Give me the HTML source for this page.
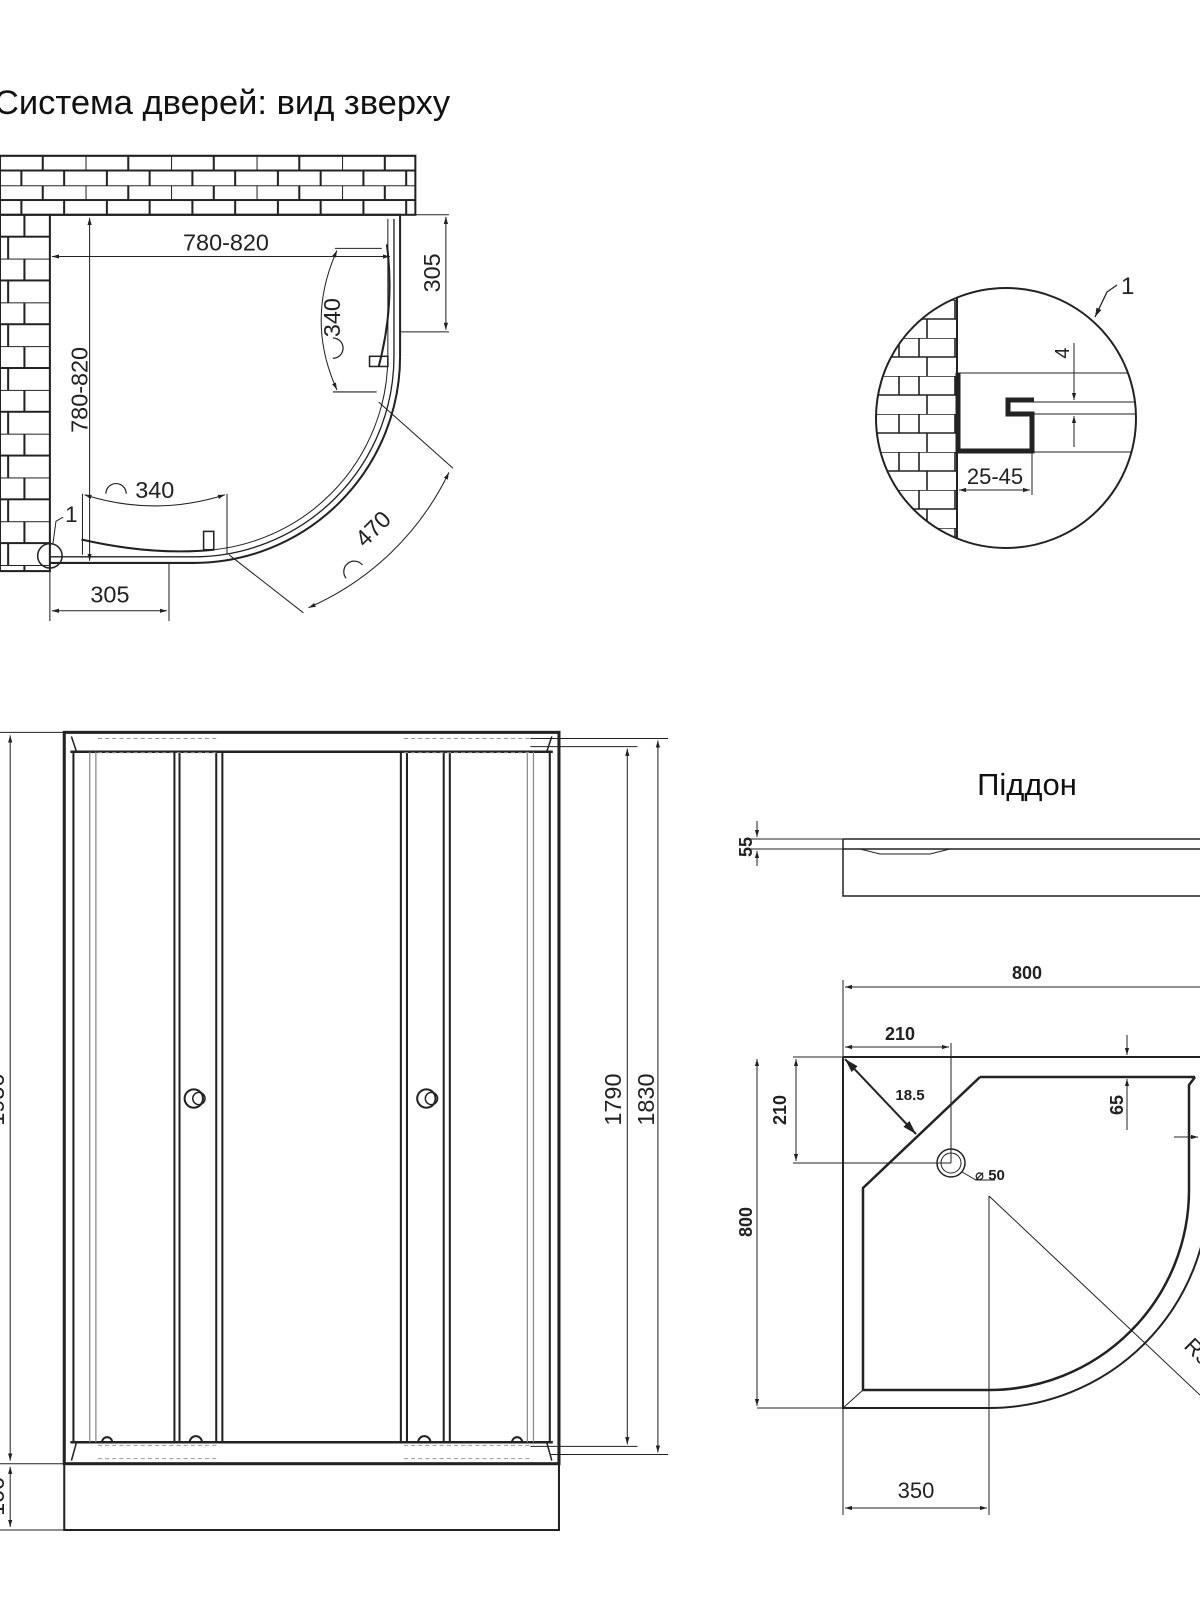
<!DOCTYPE html>
<html><head><meta charset="utf-8"><style>html,body{margin:0;padding:0;background:#fff}svg{display:block}</style></head>
<body>
<svg width="1200" height="1600" viewBox="0 0 1200 1600" xmlns="http://www.w3.org/2000/svg" font-family="Liberation Sans, DejaVu Sans, sans-serif" fill="none" stroke="#222">
<defs>
<pattern id="brk" x="0" y="153" width="84" height="29" patternUnits="userSpaceOnUse">
<rect width="84" height="29" fill="#fff" stroke="none"/>
<path d="M0 0H84M0 14.5H84M0 0V14.5M42 0V14.5M21 14.5V29M63 14.5V29" stroke="#222" stroke-width="2"/>
</pattern>
<pattern id="brkL" x="0" y="211" width="49" height="43" patternUnits="userSpaceOnUse">
<rect width="49" height="43" fill="#fff" stroke="none"/>
<path d="M0 0H49M0 21.5H49M24 0V21.5M8 21.5V43" stroke="#222" stroke-width="2"/>
</pattern>
<pattern id="brkC" x="860" y="300" width="56" height="38" patternUnits="userSpaceOnUse">
<rect width="56" height="38" fill="#fff" stroke="none"/>
<path d="M0 0H56M0 19H56M32 0V19M52 0V19M4 19V38" stroke="#222" stroke-width="1.6"/>
</pattern>
<clipPath id="cc"><circle cx="999" cy="418" r="130"/></clipPath>
<marker id="a" viewBox="0 0 10 10" refX="10" refY="5" markerWidth="7" markerHeight="7" orient="auto-start-reverse"><path d="M0 2L10 5L0 8z" fill="#222" stroke="none"/></marker>
</defs>

<!-- Title -->
<text x="-6" y="114" font-size="34.5" fill="#111" stroke="none">Cистема дверей: вид зверху</text>

<g transform="scale(1.018)">
<rect x="0" y="153" width="408" height="58" fill="url(#brk)" stroke="#222" stroke-width="2"/>
<rect x="0" y="211" width="49" height="350" fill="url(#brkL)" stroke="#222" stroke-width="2"/>
<path d="M49 211H393V350" stroke-width="2"/>
<path d="M49 553H190A203 203 0 0 0 393 350" stroke-width="2"/>
<path d="M49 547H190A197 197 0 0 0 387 350V215" stroke-width="1.3"/>
<path d="M190 541A191 191 0 0 0 381 350V215" stroke-width="1"/>
<path d="M80 530Q150 546 210 540" stroke-width="2"/>
<path d="M380 240Q388 300 372 360" stroke-width="2"/>
<rect x="200" y="522" width="10" height="18" stroke-width="1.5"/>
<rect x="363" y="350" width="18" height="10" stroke-width="1.5"/>
<line x1="51" y1="252" x2="383" y2="252" stroke-width="1" marker-start="url(#a)" marker-end="url(#a)"/>
<text x="222" y="246" font-size="23" fill="#222" stroke="none" text-anchor="middle">780-820</text>
<line x1="88" y1="214" x2="88" y2="551" stroke-width="1" marker-start="url(#a)" marker-end="url(#a)"/>
<text transform="translate(86,383) rotate(-90)" font-size="23" fill="#222" stroke="none" text-anchor="middle">780-820</text>
<path d="M393 211H441M393 326H441" stroke-width="1"/>
<line x1="438" y1="213" x2="438" y2="324" stroke-width="1" marker-start="url(#a)" marker-end="url(#a)"/>
<text transform="translate(432,268) rotate(-90)" font-size="23" fill="#222" stroke="none" text-anchor="middle">305</text>
<path d="M329 244H375M327 385H370" stroke-width="1"/>
<path d="M331 246Q300 315 331 383" stroke-width="1" marker-start="url(#a)" marker-end="url(#a)"/>
<text transform="translate(334,312) rotate(-90)" font-size="23" fill="#222" stroke="none" text-anchor="middle">340</text>
<path d="M327 352A10 10 0 0 0 327 332" stroke-width="1.2"/>
<path d="M81 485V545M223 485V545" stroke-width="1"/>
<path d="M83 486Q152 508 221 486" stroke-width="1" marker-start="url(#a)" marker-end="url(#a)"/>
<text x="152" y="489" font-size="23" fill="#222" stroke="none" text-anchor="middle">340</text>
<path d="M104 485A10 10 0 0 1 124 485" stroke-width="1.2"/>
<path d="M166 553V610M49 560V610" stroke-width="1"/>
<line x1="51" y1="600" x2="164" y2="600" stroke-width="1" marker-start="url(#a)" marker-end="url(#a)"/>
<text x="108" y="592" font-size="23" fill="#222" stroke="none" text-anchor="middle">305</text>
<path d="M372 395L445 460M225 545L298 602" stroke-width="1"/>
<path d="M441 464A274 274 0 0 1 303 597" stroke-width="1" marker-start="url(#a)" marker-end="url(#a)"/>
<text transform="translate(372,525) rotate(-45)" font-size="23" fill="#222" stroke="none" text-anchor="middle">470</text>
<path d="M340 568A10 10 0 0 1 356 555" stroke-width="1.2"/>
<circle cx="49" cy="546" r="12" stroke-width="1.5"/>
<path d="M52 534L55 512L62 508" stroke-width="1"/>
<text x="64" y="513" font-size="22" fill="#222" stroke="none">1</text>
</g>

<g transform="translate(7,0)">
<g clip-path="url(#cc)">
<rect x="860" y="280" width="90" height="280" fill="url(#brkC)" stroke="none"/>
<path d="M950 280V560" stroke-width="2"/>
<path d="M950 373H1140M1000 402H1140M1000 414H1140M950 452H1140" stroke-width="1"/>
</g>
<circle cx="999" cy="418" r="130" stroke-width="2"/>
<path d="M951 373V451H1025V414H1001V400H1027" stroke-width="5"/>
<path d="M1025 452V495M950 452V495" stroke-width="1"/>
<line x1="952" y1="490" x2="1023" y2="490" stroke-width="1" marker-start="url(#a)" marker-end="url(#a)"/>
<text x="988" y="484" font-size="22" fill="#222" stroke="none" text-anchor="middle">25-45</text>
<line x1="1067" y1="343" x2="1067" y2="400" stroke-width="1" marker-end="url(#a)"/>
<line x1="1067" y1="447" x2="1067" y2="416" stroke-width="1" marker-end="url(#a)"/>
<text transform="translate(1062,353) rotate(-90)" font-size="20" fill="#222" stroke="none" text-anchor="middle">4</text>
<path d="M1088 317L1100 292L1110 285" stroke-width="1.3" marker-start="url(#a)"/>
<text x="1114" y="294" font-size="24" fill="#222" stroke="none">1</text>
</g>

<g transform="scale(1.02)">
<rect x="63" y="718" width="485" height="717" stroke-width="3"/>
<path d="M63 1435V1500H548V1435" stroke-width="2"/>
<path d="M69 737H542M69 1414H542" stroke-width="2.5"/>
<path d="M70 722L75 737M541 722L536 737M70 1432L75 1414M541 1432L536 1414" stroke-width="1.5"/>
<path d="M72 737V1414M539 737V1414" stroke-width="2"/>
<path d="M88 737V1414M94 737V1414M517 737V1414M523 737V1414" stroke="#888" stroke-width="1.2"/>
<path d="M171 737V1414M176 737V1414M212 737V1414M218 737V1414M393 737V1414M399 737V1414M435 737V1414M441 737V1414" stroke-width="2"/>
<path d="M96 724H214M96 738H214M396 724H520M396 738H520M96 1417H214M96 1430H214M396 1417H520M396 1430H520" stroke="#999" stroke-width="1" stroke-dasharray="4 3"/>
<circle cx="190" cy="1077" r="9" stroke-width="2"/><circle cx="195" cy="1077" r="6" stroke-width="1.5"/>
<circle cx="418" cy="1077" r="9" stroke-width="2"/><circle cx="423" cy="1077" r="6" stroke-width="1.5"/>
<path d="M186 1414A6 6 0 0 1 198 1414M410 1414A6 6 0 0 1 422 1414M100 1414A5 5 0 0 1 110 1414M502 1414A5 5 0 0 1 512 1414" stroke-width="2"/>
<path d="M0 718H63M0 1435H63M0 1500H63" stroke-width="1"/>
<line x1="10" y1="721" x2="10" y2="1432" stroke-width="1" marker-start="url(#a)" marker-end="url(#a)"/>
<line x1="10" y1="1438" x2="10" y2="1497" stroke-width="1" marker-start="url(#a)" marker-end="url(#a)"/>
<text transform="translate(4,1078) rotate(-90)" font-size="23" fill="#222" stroke="none" text-anchor="middle">1950</text>
<text transform="translate(4,1467) rotate(-90)" font-size="23" fill="#222" stroke="none" text-anchor="middle">100</text>
<path d="M520 732H625M520 724H655M520 1418H625M540 1426H655" stroke-width="1"/>
<line x1="615" y1="734" x2="615" y2="1416" stroke-width="1" marker-start="url(#a)" marker-end="url(#a)"/>
<line x1="645" y1="726" x2="645" y2="1424" stroke-width="1" marker-start="url(#a)" marker-end="url(#a)"/>
<text transform="translate(609,1078) rotate(-90)" font-size="23" fill="#222" stroke="none" text-anchor="middle">1790</text>
<text transform="translate(641,1078) rotate(-90)" font-size="23" fill="#222" stroke="none" text-anchor="middle">1830</text>
</g>

<text x="1027" y="795" font-size="31" fill="#111" stroke="none" text-anchor="middle">Піддон</text>
<g transform="translate(0,16)">
<path d="M843 823H1200M843 833H1200M843 823V880H1200" stroke-width="1.5"/>
<path d="M860 833L880 838H930L950 833" stroke-width="1"/>
<path d="M750 823H843M750 833H843" stroke-width="1"/>
<line x1="757" y1="805" x2="757" y2="821" stroke-width="1" marker-end="url(#a)"/>
<line x1="757" y1="850" x2="757" y2="835" stroke-width="1" marker-end="url(#a)"/>
<text transform="translate(752,831) rotate(-90)" font-size="18" font-weight="bold" fill="#222" stroke="none" text-anchor="middle">55</text>
</g>

<text x="1027" y="979" font-size="18" font-weight="bold" fill="#222" stroke="none" text-anchor="middle">800</text>
<line x1="845" y1="987" x2="1200" y2="987" stroke-width="1" marker-start="url(#a)"/>
<path d="M843 980V1515" stroke-width="1"/>
<path d="M843 1057H1200M843 1057V1408H989A220 220 0 0 0 1209 1188" stroke-width="2"/>
<path d="M980 1077H1195M980 1077L863 1188V1390H989A200 200 0 0 0 1189 1190V1085L1195 1077" stroke-width="2.5"/>
<path d="M843 1408L863 1390" stroke-width="1"/>
<line x1="845" y1="1059" x2="916" y2="1134" stroke-width="2" marker-start="url(#a)" marker-end="url(#a)"/>
<text x="910" y="1100" font-size="15" font-weight="bold" fill="#222" stroke="none" text-anchor="middle">18.5</text>
<line x1="845" y1="1047" x2="949" y2="1047" stroke-width="1" marker-start="url(#a)" marker-end="url(#a)"/>
<text x="900" y="1040" font-size="18" font-weight="bold" fill="#222" stroke="none" text-anchor="middle">210</text>
<path d="M951 1043V1163M793 1163H951M793 1057H843" stroke-width="1"/>
<line x1="796" y1="1059" x2="796" y2="1161" stroke-width="1" marker-start="url(#a)" marker-end="url(#a)"/>
<text transform="translate(786,1110) rotate(-90)" font-size="18" font-weight="bold" fill="#222" stroke="none" text-anchor="middle">210</text>
<circle cx="951" cy="1163" r="14" stroke-width="1.5"/><circle cx="951" cy="1163" r="10" stroke-width="1"/>
<path d="M962 1172L976 1180H995" stroke-width="1"/>
<text x="975" y="1180" font-size="15" font-weight="bold" fill="#222" stroke="none">⌀ 50</text>
<path d="M989 1196V1515M989 1196L1200 1395" stroke-width="1"/>
<path d="M757 1408H843" stroke-width="1"/>
<line x1="757" y1="1059" x2="757" y2="1406" stroke-width="1" marker-start="url(#a)" marker-end="url(#a)"/>
<text transform="translate(752,1222) rotate(-90)" font-size="18" font-weight="bold" fill="#222" stroke="none" text-anchor="middle">800</text>
<line x1="1127" y1="1035" x2="1127" y2="1055" stroke-width="1" marker-end="url(#a)"/>
<line x1="1127" y1="1130" x2="1127" y2="1079" stroke-width="1" marker-end="url(#a)"/>
<text transform="translate(1123,1105) rotate(-90)" font-size="18" font-weight="bold" fill="#222" stroke="none" text-anchor="middle">65</text>
<line x1="1174" y1="1137" x2="1198" y2="1137" stroke-width="1" marker-end="url(#a)"/>
<text transform="translate(1183,1347) rotate(45)" font-size="22" fill="#222" stroke="none">R550</text>
<line x1="845" y1="1508" x2="987" y2="1508" stroke-width="1" marker-start="url(#a)" marker-end="url(#a)"/>
<text x="916" y="1498" font-size="22" fill="#222" stroke="none" text-anchor="middle">350</text>
</svg>
</body></html>
